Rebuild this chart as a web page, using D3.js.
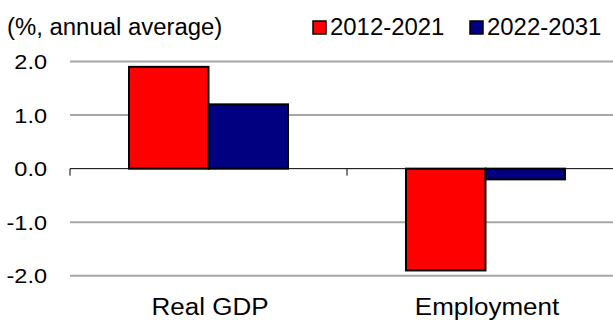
<!DOCTYPE html>
<html>
<head>
<meta charset="utf-8">
<script src="https://cdn.jsdelivr.net/npm/d3@7/dist/d3.min.js"></script>
<style>
  html, body { margin: 0; padding: 0; background: #fff; }
  svg { display: block; }
  text { font-family: "Liberation Sans", Arial, sans-serif; fill: #000; }
</style>
</head>
<body>
<svg id="chart" width="613" height="320"></svg>
<script>
// Growth rates, % annual average
const categories = ["Real GDP", "Employment"];
const seriesNames = ["2012-2021", "2022-2031"];
const values2012_2021 = [1.9, -1.9];
const values2022_2031 = [1.2, -0.2];
const yTicks = [2.0, 1.0, 0.0, -1.0, -2.0];
const colors = ["#FF0000", "#000080"];

const data = categories.map((c, i) => ({
  category: c,
  values: [values2012_2021[i], values2022_2031[i]]
}));

const svg = d3.select("#chart");

const y = d3.scaleLinear().domain([-2, 2]).range([275.8, 61.5]);
const x0 = d3.scaleBand().domain(categories).range([70, 624]).padding(0);
const x1 = d3.scaleBand().domain(seriesNames).range([0, x0.bandwidth()])
  .paddingInner(0).paddingOuter(0.742);

// slightly wide lettering: place at (x, y), then stretch horizontally
function wideText(sel, sx) {
  return sel.attr("transform", function () {
    const tx = +this.getAttribute("data-x");
    const ty = +this.getAttribute("data-y");
    return `translate(${tx},${ty}) scale(${sx},1)`;
  });
}

// horizontal gridlines (non-zero)
svg.append("g")
  .selectAll("line")
  .data(yTicks.filter(d => d !== 0))
  .join("line")
  .attr("x1", 70).attr("x2", 624)
  .attr("y1", d => y(d)).attr("y2", d => y(d))
  .attr("stroke", "#A6A6A6")
  .attr("stroke-width", 2);

// y tick labels (plain hyphen for negatives)
const fmt = d3.format(".1f");
svg.append("g")
  .selectAll("text")
  .data(yTicks)
  .join("text")
  .attr("data-x", 47)
  .attr("data-y", d => y(d))
  .attr("dy", "0.36em")
  .attr("text-anchor", "end")
  .style("font-size", "21px")
  .text(d => fmt(d).replace("\u2212", "-"))
  .call(wideText, 1.12);

// bars
const groups = svg.append("g")
  .selectAll("g")
  .data(data)
  .join("g")
  .attr("transform", d => `translate(${x0(d.category)},0)`);

groups.selectAll("rect")
  .data(d => d.values.map((v, i) => ({ key: seriesNames[i], value: v, i })))
  .join("rect")
  .attr("x", d => x1(d.key))
  .attr("width", x1.bandwidth())
  .attr("y", d => y(Math.max(0, d.value)))
  .attr("height", d => Math.abs(y(d.value) - y(0)))
  .attr("fill", d => colors[d.i])
  .attr("stroke", "#000")
  .attr("stroke-width", 2);

// zero axis line with category tick marks
const zeroY = y(0);
svg.append("line")
  .attr("x1", 70).attr("x2", 624)
  .attr("y1", zeroY).attr("y2", zeroY)
  .attr("stroke", "#000").attr("stroke-width", 1);

const tickXs = categories.map(c => x0(c)).concat([x0.range()[1]]);
svg.append("g")
  .selectAll("line")
  .data(tickXs)
  .join("line")
  .attr("x1", d => d).attr("x2", d => d)
  .attr("y1", zeroY).attr("y2", zeroY + 7)
  .attr("stroke", "#000").attr("stroke-width", 1);

// category labels
svg.append("g")
  .selectAll("text")
  .data(categories)
  .join("text")
  .attr("data-x", d => x0(d) + x0.bandwidth() / 2 + 1.5)
  .attr("data-y", 315)
  .attr("text-anchor", "middle")
  .style("font-size", "23px")
  .text(d => d)
  .call(wideText, 1.13);

// unit label
svg.append("text")
  .attr("data-x", 7)
  .attr("data-y", 35)
  .style("font-size", "23px")
  .text("(%, annual average)")
  .call(wideText, 1.04);

// legend
const legendX = [313, 470];
const legend = svg.append("g")
  .selectAll("g")
  .data(seriesNames)
  .join("g")
  .attr("transform", (d, i) => `translate(${legendX[i]},21)`);

legend.append("rect")
  .attr("width", 13).attr("height", 13)
  .attr("fill", (d, i) => colors[i])
  .attr("stroke", "#000").attr("stroke-width", 1.5);

legend.append("text")
  .attr("data-x", 17)
  .attr("data-y", 14)
  .style("font-size", "23px")
  .text(d => d)
  .call(wideText, 1.04);
</script>
</body>
</html>
